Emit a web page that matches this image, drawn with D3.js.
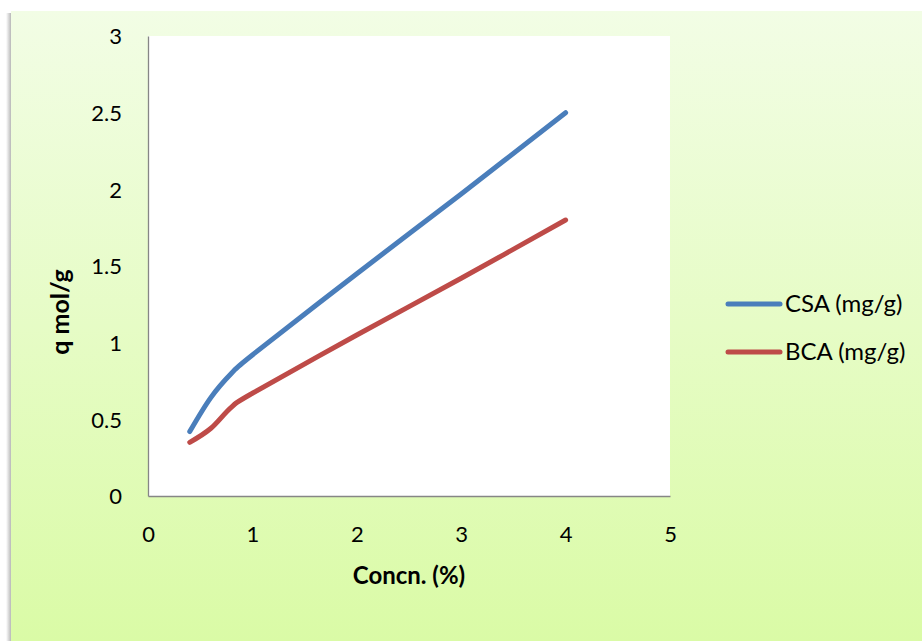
<!DOCTYPE html>
<html>
<head>
<meta charset="utf-8">
<script src="https://cdn.jsdelivr.net/npm/d3@7"></script>
<style>
  html, body { margin: 0; padding: 0; background: #ffffff; }
  svg { display: block; }
  text { font-family: Lato, "Open Sans", "Liberation Sans", sans-serif; fill: #000; }
</style>
</head>
<body>
<svg id="chart" width="922" height="641"></svg>
<script>
// Concentration (%) and adsorbed amount for the two adsorbents
const concn = [0.4, 0.6, 0.8, 1, 2, 3, 4];
const csa = [0.42, 0.64, 0.80, 0.92, 1.45, 1.97, 2.50];
const bca = [0.35, 0.44, 0.58, 0.67, 1.05, 1.42, 1.80];
const seriesNames = ["CSA (mg/g)", "BCA (mg/g)"];
const seriesColors = ["#4a7ebb", "#be4b48"];
const xTicks = [0, 1, 2, 3, 4, 5];
const yTicks = [0, 0.5, 1, 1.5, 2, 2.5, 3];

const svg = d3.select("#chart");

// Chart panel with soft green vertical gradient and a left shadow
const defs = svg.append("defs");
const grad = defs.append("linearGradient").attr("id", "bg").attr("x1", 0).attr("y1", 0).attr("x2", 0).attr("y2", 1);
grad.append("stop").attr("offset", "0%").attr("stop-color", "#f2fde5");
grad.append("stop").attr("offset", "100%").attr("stop-color", "#dafba6");
const sh = defs.append("linearGradient").attr("id", "shadow").attr("x1", 0).attr("y1", 0).attr("x2", 1).attr("y2", 0);
sh.append("stop").attr("offset", "0%").attr("stop-color", "#ffffff");
sh.append("stop").attr("offset", "100%").attr("stop-color", "#b8b8b8");

svg.append("rect").attr("x", 6).attr("y", 13).attr("width", 5).attr("height", 628).attr("fill", "url(#shadow)");
svg.append("rect").attr("x", 11).attr("y", 11).attr("width", 911).attr("height", 630).attr("fill", "url(#bg)");

const plot = { left: 148, top: 36, right: 670, bottom: 496 };

const x = d3.scaleLinear().domain([0, 5]).range([plot.left, plot.right]);
const y = d3.scaleLinear().domain([0, 3]).range([plot.bottom, plot.top]);

svg.append("rect")
  .attr("x", plot.left).attr("y", plot.top)
  .attr("width", plot.right - plot.left).attr("height", plot.bottom - plot.top)
  .attr("fill", "#ffffff");

// Axes
const xAxis = svg.append("g").attr("transform", `translate(0,${plot.bottom})`)
  .call(d3.axisBottom(x).tickValues(xTicks).tickSize(0).tickFormat(d3.format("d")));
const yAxis = svg.append("g").attr("transform", `translate(${plot.left},0)`)
  .call(d3.axisLeft(y).tickValues(yTicks).tickSize(0).tickPadding(26).tickFormat(d => String(d)));

[xAxis, yAxis].forEach(a => {
  a.select(".domain").attr("stroke", "#868686").attr("stroke-width", 1.3);
  a.selectAll("text").style("font-size", "22px").style("font-family", "Lato, 'Open Sans', sans-serif").attr("fill", "#000");
});
xAxis.selectAll("text").attr("y", 46).attr("dy", 0);
yAxis.selectAll("text").attr("dy", "0.36em");

// Axis titles
svg.append("text")
  .attr("x", 409).attr("y", 584)
  .attr("text-anchor", "middle")
  .style("font-size", "24px").style("font-weight", "bold")
  .text("Concn. (%)");

svg.append("text")
  .attr("transform", "translate(69,312) rotate(-90)")
  .attr("text-anchor", "middle")
  .style("font-size", "25px").style("font-weight", "bold")
  .text("q mol/g");

// Smoothed series lines
const line = d3.line()
  .x(d => x(d[0]))
  .y(d => y(d[1]))
  .curve(d3.curveCardinal.tension(0));

[csa, bca].forEach((vals, i) => {
  svg.append("path")
    .datum(concn.map((c, j) => [c, vals[j]]))
    .attr("d", line)
    .attr("fill", "none")
    .attr("stroke", seriesColors[i])
    .attr("stroke-width", 5)
    .attr("stroke-linecap", "round")
    .attr("stroke-linejoin", "round");
});

// Legend
const legend = svg.append("g");
seriesNames.forEach((name, i) => {
  const ly = 304 + i * 48;
  legend.append("line")
    .attr("x1", 728).attr("x2", 780).attr("y1", ly).attr("y2", ly)
    .attr("stroke", seriesColors[i]).attr("stroke-width", 5).attr("stroke-linecap", "round");
  legend.append("text")
    .attr("x", 785).attr("y", ly + 8)
    .style("font-size", "24px")
    .text(name);
});
</script>
</body>
</html>
